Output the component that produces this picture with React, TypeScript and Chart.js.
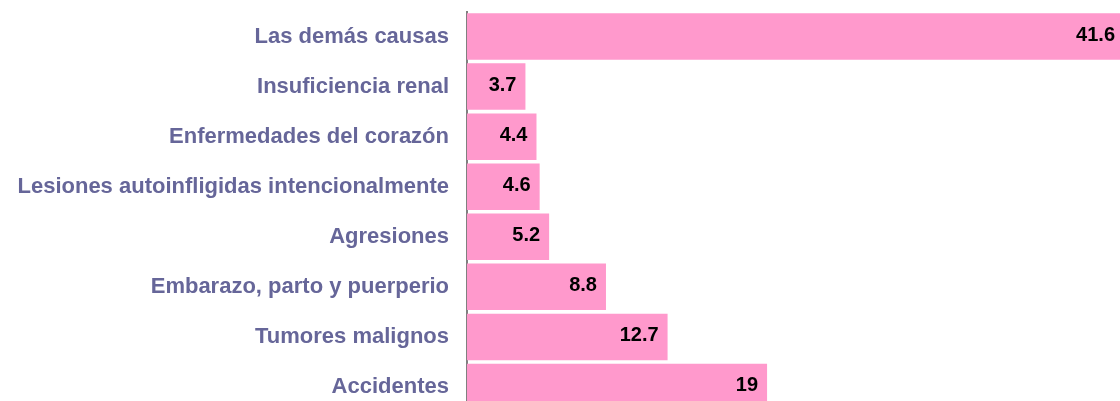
import React, { useEffect, useRef } from "react";
import { Chart, registerables } from "chart.js";

Chart.register(...registerables);

const categories: string[] = [
  "Las demás causas",
  "Insuficiencia renal",
  "Enfermedades del corazón",
  "Lesiones autoinfligidas intencionalmente",
  "Agresiones",
  "Embarazo, parto y puerperio",
  "Tumores malignos",
  "Accidentes",
];

const values: number[] = [41.6, 3.7, 4.4, 4.6, 5.2, 8.8, 12.7, 19];

const valueLabels: string[] = ["41.6", "3.7", "4.4", "4.6", "5.2", "8.8", "12.7", "19"];

const FONT = "'Liberation Sans', Arial, sans-serif";

const valueLabelPlugin = {
  id: "valueLabels",
  afterDatasetsDraw(chart: any) {
    const ctx = chart.ctx;
    const meta = chart.getDatasetMeta(0);
    ctx.save();
    ctx.font = `bold 20px ${FONT}`;
    ctx.fillStyle = "#000000";
    ctx.textAlign = "right";
    ctx.textBaseline = "middle";
    meta.data.forEach((bar: any, i: number) => {
      ctx.fillText(valueLabels[i], bar.x - 9, bar.y - 1);
    });
    ctx.restore();
  },
};

export default function App() {
  const ref = useRef<HTMLCanvasElement | null>(null);

  useEffect(() => {
    if (!ref.current) return;
    const chart = new Chart(ref.current, {
      type: "bar",
      data: {
        labels: categories,
        datasets: [
          {
            data: values,
            backgroundColor: "#FF99CC",
            borderWidth: 0,
            categoryPercentage: 1,
            barPercentage: 0.93,
          },
        ],
      },
      options: {
        indexAxis: "y",
        responsive: false,
        animation: false,
        layout: { padding: { top: 11.5, bottom: 0, left: 0, right: 6 } },
        plugins: {
          legend: { display: false },
          tooltip: { enabled: false },
        },
        scales: {
          x: {
            display: false,
            min: 0,
            max: 41.6,
          },
          y: {
            grid: { display: false, drawTicks: true, tickLength: 18 },
            border: { display: true, color: "#808080", width: 2 },
            ticks: {
              color: "#666699",
              padding: 0,
              font: { family: FONT, size: 22, weight: "bold", lineHeight: 1 },
            },
            afterFit(scale: any) {
              scale.width = 467;
            },
          },
        },
      },
      plugins: [valueLabelPlugin],
    });
    return () => chart.destroy();
  }, []);

  return (
    <div style={{ position: "fixed", left: 0, top: 0, width: 1130, height: 423, background: "#fff" }}>
      <canvas ref={ref} width={1130} height={423} style={{ width: 1130, height: 423 }} />
    </div>
  );
}
